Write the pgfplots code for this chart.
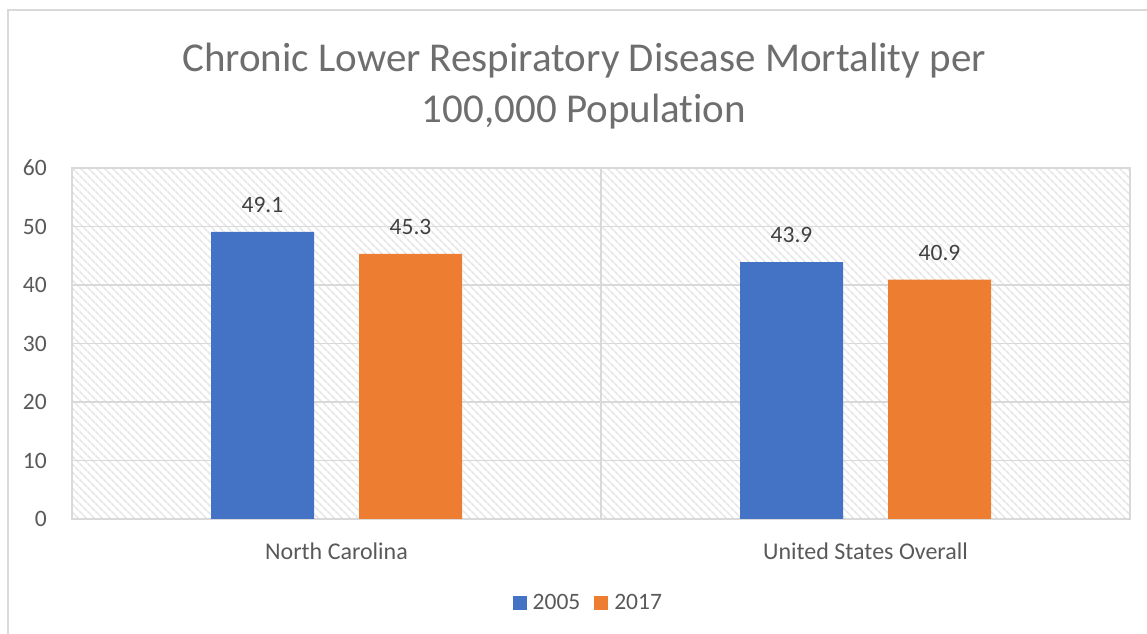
\documentclass[border=0pt]{standalone}
\usepackage{pgfplots}
\pgfplotsset{compat=1.18}
\usepackage{fontspec}
\setmainfont{Carlito}[Ligatures=NoCommon]
\usetikzlibrary{patterns.meta}
\definecolor{c2005}{HTML}{4472C4}
\definecolor{c2017}{HTML}{ED7D31}
\definecolor{gridc}{HTML}{D9D9D9}
\definecolor{txt}{HTML}{595959}
\definecolor{ttl}{HTML}{6E6E6E}
\definecolor{lbl}{HTML}{404040}
\begin{document}
\begin{tikzpicture}[x=1bp,y=1bp]
\path[use as bounding box] (0,0) rectangle (1147,634);
\draw[gridc, line width=1.5bp] (8,0) -- (8,624) -- (1147,624);
\node[anchor=base, text=ttl, font=\fontsize{41bp}{51bp}\selectfont, inner sep=0pt] at (584,562) {Chronic Lower Respiratory Disease Mortality per};
\node[anchor=base, text=ttl, font=\fontsize{41bp}{51bp}\selectfont, inner sep=0pt] at (584,511) {100,000 Population};
\begin{axis}[
  at={(72bp,115bp)}, anchor=south west,
  scale only axis, width=1058bp, height=351bp,
  /pgf/number format/assume math mode=true,
  ybar=45bp, bar width=103bp,
  xmin=-0.5, xmax=1.5, ymin=0, ymax=60,
  xtick={0,1}, xticklabels={North Carolina, United States Overall},
  minor xtick={0.5},
  ytick={0,10,20,30,40,50,60},
  ymajorgrids, xminorgrids,
  major grid style={gridc, line width=1.5bp},
  minor grid style={gridc, line width=1.5bp},
  axis line style={gridc, line width=1.5bp},
  major tick length=0pt, minor tick length=0pt,
  tick style={draw=none},
  ticklabel style={font=\fontsize{23.5bp}{28bp}\selectfont, text=txt, inner sep=0pt},
  xticklabel style={font=\fontsize{24bp}{28bp}\selectfont},
  yticklabel shift=25bp,
  xticklabel shift=24bp,
  axis background/.style={pattern={Lines[angle=-45, distance=6bp, line width=2bp]}, pattern color=black!9},
  nodes near coords,
  every node near coord/.append style={font=\fontsize{23.5bp}{28bp}\selectfont, text=lbl, inner sep=0pt, yshift=19bp, anchor=south},
  legend style={at={(0.488,-0.239)}, anchor=center, legend columns=2, draw=none, fill=none,
    font=\fontsize{23.5bp}{28bp}\selectfont, text=txt,
    /tikz/every even column/.append style={column sep=12bp}},
  legend image code/.code={\fill[#1] (0bp,-7bp) rectangle (14bp,7bp); \path (18bp,0bp);},
]
\addplot[fill=c2005, draw=none] coordinates {(0,49.1) (1,43.9)};
\addplot[fill=c2017, draw=none] coordinates {(0,45.3) (1,40.9)};
\legend{2005, 2017}
\end{axis}
\end{tikzpicture}
\end{document}
